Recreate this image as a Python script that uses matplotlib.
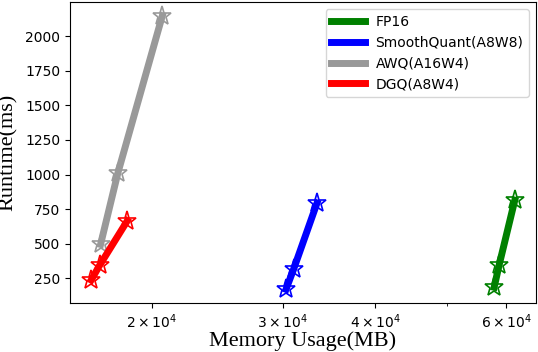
import matplotlib
matplotlib.use("Agg")
import matplotlib.pyplot as plt
from matplotlib.lines import Line2D

labels = ["FP16", "SmoothQuant(A8W8)", "AWQ(A16W4)", "DGQ(A8W4)"]
colors = ["green", "blue", "#999999", "red"]
mem_fp16 = [57780, 58680, 61600]
rt_fp16 = [185, 346, 815]
mem_sq = [30320, 31040, 33380]
rt_sq = [170, 315, 795]
mem_awq = [17070, 18010, 20670]
rt_awq = [495, 1012, 2149]
mem_dgq = [16580, 17030, 18540]
rt_dgq = [237, 346, 665]

mems = [mem_fp16, mem_sq, mem_awq, mem_dgq]
rts = [rt_fp16, rt_sq, rt_awq, rt_dgq]
xticks = [2e4, 3e4, 4e4, 6e4]
xticklabels = [r"$2\times10^4$", r"$3\times10^4$", r"$4\times10^4$", r"$6\times10^4$"]

fig = plt.figure(figsize=(5.38, 3.52), dpi=100)
ax = fig.add_axes([70/538, 1 - 303/352, (536-70)/538, (303-2)/352])
handles = []
for m, r, c, l in zip(mems, rts, colors, labels):
    ax.plot(m, r, color=c, lw=5, marker="*", ms=14, mfc="none", mec=c, mew=1.2)
    handles.append(Line2D([], [], color=c, lw=5, label=l))
ax.set_xscale("log")
ax.set_xticks(xticks)
ax.set_xticklabels(xticklabels)
ax.xaxis.set_minor_formatter(matplotlib.ticker.NullFormatter())
ax.tick_params(labelsize=10)
ax.set_xlabel("Memory Usage(MB)", family="Liberation Serif", fontsize=16, labelpad=0)
ax.set_ylabel("Runtime(ms)", family="Liberation Serif", fontsize=16, labelpad=5)
ax.legend(handles=handles, loc="upper right", fontsize=10, handlelength=2.4)
fig.savefig("out.png", dpi=100)
